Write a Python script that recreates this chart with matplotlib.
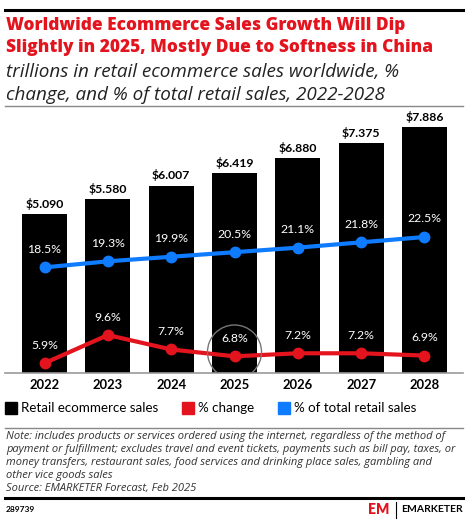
import matplotlib.pyplot as plt
from matplotlib.lines import Line2D
from matplotlib.patches import Rectangle

years = ["2022", "2023", "2024", "2025", "2026", "2027", "2028"]
sales = [5.090, 5.580, 6.007, 6.419, 6.880, 7.375, 7.886]
pct_change = [5.9, 9.6, 7.7, 6.8, 7.2, 7.2, 6.9]
pct_total = [18.5, 19.3, 19.9, 20.5, 21.1, 21.8, 22.5]

RED = "#E3141E"
BLUE = "#0F7BFF"
FONT = "Lato"
WIDE = "Open Sans"

W, H = 476, 528
fig = plt.figure(figsize=(W / 100, H / 100), dpi=100)


def fx(px):
    return px / W


def fy(py):
    return 1 - py / H


# header rules and titles
fig.add_artist(Line2D([fx(5), fx(463)], [fy(10), fy(10)], color="black", lw=2.2))
fig.text(fx(6), fy(25), "Worldwide Ecommerce Sales Growth Will Dip", color=RED,
         fontsize=12.4, fontweight="heavy", family=WIDE, va="center")
fig.text(fx(6), fy(48), "Slightly in 2025, Mostly Due to Softness in China", color=RED,
         fontsize=12.4, fontweight="heavy", family=WIDE, va="center")
fig.text(fx(6), fy(72), "trillions in retail ecommerce sales worldwide, %", color="#222222",
         fontsize=13.6, style="italic", family=WIDE, va="center")
fig.text(fx(6), fy(95), "change, and % of total retail sales, 2022-2028", color="#222222",
         fontsize=13.6, style="italic", family=WIDE, va="center")
fig.add_artist(Line2D([fx(5), fx(463)], [fy(106), fy(106)], color="#888888", lw=1))

# main axes
ax_top, ax_bot = 112, 373
ax = fig.add_axes([fx(5), fy(ax_bot), fx(458), (ax_bot - ax_top) / H])
x = list(range(len(years)))
ax.bar(x, sales, width=0.71, color="black", zorder=1)
ax.set_xlim(-0.624, 6.608)
ax.set_ylim(0, (ax_bot - ax_top) / 31.2)
for xi, v in zip(x, sales):
    ax.annotate(f"${v:.3f}", (xi, v), xytext=(0, 3), textcoords="offset points",
                ha="center", va="bottom", fontsize=8.8, fontweight="bold", family=FONT)
ax.set_xticks(x)
ax.set_xticklabels(years, fontsize=9.4, fontweight="bold", family=FONT)
ax.tick_params(axis="x", length=0, pad=4)
ax.set_yticks([])
for s in ["top", "left", "right"]:
    ax.spines[s].set_visible(False)
ax.spines["bottom"].set_color("#999999")
ax.spines["bottom"].set_linewidth(1.2)

ax2 = ax.twinx()
ax2.set_ylim((408 - ax_bot) / 7.6, (408 - ax_top) / 7.6)
ax2.plot(x, pct_total, color=BLUE, lw=3, marker="o", ms=7.5, zorder=3)
ax2.plot(x, pct_change, color=RED, lw=3, marker="o", ms=7.5, zorder=3)
for xi, v in zip(x, pct_total):
    ax2.annotate(f"{v:.1f}%", (xi, v), xytext=(0, 9), textcoords="offset points",
                 ha="center", va="bottom", fontsize=8.8, color="white", family=FONT)
for xi, v in zip(x, pct_change):
    ax2.annotate(f"{v:.1f}%", (xi, v), xytext=(0, 9), textcoords="offset points",
                 ha="center", va="bottom", fontsize=8.8, color="white", family=FONT)
ax2.scatter([3], [(408 - 352) / 7.6], s=1513, facecolors="none", edgecolors="#777777",
            linewidths=1, zorder=4)
ax2.set_yticks([])
for s in ax2.spines.values():
    s.set_visible(False)

# legend
legend_items = [(5, "black", "Retail ecommerce sales"), (182, RED, "% change"),
                (278, BLUE, "% of total retail sales")]
for px, col, lab in legend_items:
    fig.add_artist(Rectangle((fx(px), fy(414)), fx(12), 12 / H, color=col))
    fig.text(fx(px + 16), fy(408), lab, fontsize=9.6, family=FONT, va="center")

# notes
fig.add_artist(Line2D([fx(5), fx(463)], [fy(428), fy(428)], color="#888888", lw=1))
notes = ["Note: includes products or services ordered using the internet, regardless of the method of",
         "payment or fulfillment; excludes travel and event tickets, payments such as bill pay, taxes, or",
         "money transfers, restaurant sales, food services and drinking place sales, gambling and",
         "other vice goods sales",
         "Source: EMARKETER Forecast, Feb 2025"]
for i, line in enumerate(notes):
    fig.text(fx(6), fy(437 + i * 12.8), line, fontsize=8.05, style="italic", color="#333333",
             family=WIDE, va="center")
fig.add_artist(Line2D([fx(5), fx(463)], [fy(498), fy(498)], color="black", lw=2.2))
fig.text(fx(6), fy(510), "289739", fontsize=6, fontweight="bold", family=FONT, va="center")
fig.text(fx(368), fy(510), "EM", fontsize=10, fontweight="heavy", color=RED, family=FONT,
         va="center")
fig.add_artist(Line2D([fx(396), fx(396)], [fy(502), fy(518)], color="black", lw=0.8))
fig.text(fx(463), fy(510), "EMARKETER", fontsize=7.5, fontweight="bold", family=FONT,
         va="center", ha="right")

fig.savefig("out.png", dpi=100)
